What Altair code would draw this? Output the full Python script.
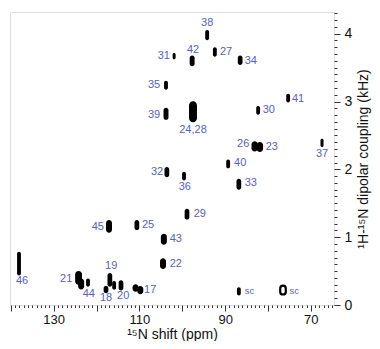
import altair as alt
import pandas as pd

# Peak centres (15N ppm, 1H-15N kHz) and linewidths
peak_ppm = [101.9, 103.8, 103.8, 94.2, 97.7, 92.4, 86.5, 75.3, 82.3, 97.5,
            83.1, 81.9, 67.4, 89.3, 99.6, 86.8, 98.9, 86.8, 103.6, 117.1,
            110.6, 104.3, 104.5, 138.1, 124.2, 123.6, 122.0, 116.9, 117.8, 115.9,
            114.3, 110.9, 109.8]
peak_khz = [3.67, 3.24, 2.82, 3.98, 3.60, 3.73, 3.61, 3.05, 2.87, 2.85,
            2.34, 2.33, 2.39, 2.08, 1.90, 1.78, 1.34, 0.20, 1.96, 1.16,
            1.18, 0.97, 0.61, 0.61, 0.40, 0.31, 0.33, 0.37, 0.23, 0.29,
            0.29, 0.25, 0.22]
peak_wppm = [0.7, 0.9, 1.15, 0.9, 1.15, 0.9, 1.1, 0.9, 0.9, 1.85,
             1.5, 1.5, 0.7, 0.9, 0.9, 1.1, 1.1, 0.9, 1.1, 1.4,
             1.1, 1.4, 1.4, 0.9, 1.6, 1.4, 0.9, 1.1, 1.1, 0.9,
             1.1, 1.4, 1.4]
peak_hkhz = [0.09, 0.13, 0.18, 0.15, 0.16, 0.14, 0.14, 0.13, 0.13, 0.31,
             0.15, 0.15, 0.12, 0.13, 0.13, 0.16, 0.16, 0.12, 0.15, 0.19,
             0.15, 0.16, 0.16, 0.35, 0.20, 0.16, 0.12, 0.20, 0.11, 0.13,
             0.15, 0.11, 0.12]

# Hollow side-chain peak
ring_ppm = [76.5]
ring_khz = [0.22]
ring_wppm = [1.3]
ring_hkhz = [0.13]

# Residue labels and where they sit (data units)
label_text = ["31", "35", "39", "38", "42", "27", "34", "41", "30", "24,28",
              "26", "23", "37", "40", "36", "33", "29", "32", "45", "25",
              "43", "22", "46", "21", "44", "19", "18", "20", "17"]
label_ppm = [104.3, 106.6, 106.6, 94.2, 97.5, 89.8, 84.0, 73.0, 79.8, 97.5,
             85.8, 79.1, 67.4, 86.5, 99.4, 84.0, 95.9, 105.9, 119.7, 108.0,
             101.5, 101.5, 137.4, 127.1, 121.8, 116.6, 117.8, 113.8, 107.5]
label_khz = [3.67, 3.24, 2.80, 4.16, 3.76, 3.73, 3.60, 3.04, 2.87, 2.58,
             2.37, 2.33, 2.22, 2.09, 1.74, 1.80, 1.34, 1.96, 1.15, 1.18,
             0.97, 0.61, 0.35, 0.38, 0.16, 0.57, 0.10, 0.13, 0.22]

sc_text = ["sc", "sc"]
sc_ppm = [84.3, 73.9]
sc_khz = [0.20, 0.21]

x_ticks = list(range(65, 141))
y_ticks = [round(i * 0.1, 1) for i in range(0, 44)]

def box(ppm, khz, w, h):
    d = pd.DataFrame({"ppm": ppm, "khz": khz, "w": w, "h": h})
    d["x1"] = d.ppm + d.w / 2
    d["x2"] = d.ppm - d.w / 2
    d["y1"] = d.khz - d.h / 2
    d["y2"] = d.khz + d.h / 2
    return d

peaks = box(peak_ppm, peak_khz, peak_wppm, peak_hkhz)
ring = box(ring_ppm, ring_khz, ring_wppm, ring_hkhz)
labels = pd.DataFrame({"t": label_text, "ppm": label_ppm, "khz": label_khz})
sclab = pd.DataFrame({"t": sc_text, "ppm": sc_ppm, "khz": sc_khz})

FONT = "Liberation Sans"
xscale = alt.Scale(domain=[140.2, 64.6], nice=False, zero=False)
yscale = alt.Scale(domain=[0, 4.32], nice=False, zero=False)

xaxis = alt.Axis(
    title="¹⁵N shift (ppm)",
    values=x_ticks,
    labelExpr="datum.value % 20 === 10 ? format(datum.value, 'd') : ''",
    labelOverlap=False,
    tickSize={"condition": {"test": "datum.value % 10 === 0", "value": 6}, "value": 2.5},
    grid=False, domain=False, labelFontSize=13, titleFontSize=14,
    labelPadding=2, titlePadding=1, labelFont=FONT, titleFont=FONT,
    titleFontWeight="normal", labelColor="#111", titleColor="#111", tickColor="#333",
)
yaxis = alt.Axis(
    title="¹H-¹⁵N dipolar coupling (kHz)",
    orient="right",
    values=y_ticks,
    labelExpr="abs(datum.value - round(datum.value)) < 0.001 ? format(datum.value, 'd') : ''",
    labelOverlap=False,
    tickSize={"condition": {"test": "abs(datum.value - round(datum.value)) < 0.001", "value": 6}, "value": 3},
    grid=False, domain=False, labelFontSize=14, titleFontSize=14,
    labelPadding=4, titlePadding=19, titleAngle=270, labelFont=FONT, titleFont=FONT,
    titleFontWeight="normal", labelColor="#111", titleColor="#111", tickColor="#333",
)

X = lambda f: alt.X(f, scale=xscale, axis=xaxis)
Y = lambda f: alt.Y(f, scale=yscale, axis=yaxis)

blobs = alt.Chart(peaks).mark_rect(color="black", cornerRadius=50).encode(
    x=X("x1:Q"), x2="x2:Q", y=Y("y1:Q"), y2="y2:Q",
)

rings = alt.Chart(ring).mark_rect(fill="white", stroke="black", strokeWidth=2.2, cornerRadius=50).encode(
    x=X("x1:Q"), x2="x2:Q", y=Y("y1:Q"), y2="y2:Q",
)

text = alt.Chart(labels).mark_text(font=FONT, fontSize=11, color="#5a60b4").encode(
    x=X("ppm:Q"), y=Y("khz:Q"), text="t:N",
)
sc = alt.Chart(sclab).mark_text(font=FONT, fontSize=9.5, color="#5a60b4").encode(
    x=X("ppm:Q"), y=Y("khz:Q"), text="t:N",
)

chart = alt.layer(blobs, rings, text, sc).properties(
    width=324, height=293,
    padding={"left": 2, "top": 4, "right": 38, "bottom": 36},
    autosize=alt.AutoSizeParams(type="none"),
).configure_view(stroke="#333", strokeWidth=1.5).configure(background="white")

chart.save("out.html", embed_options={"renderer": "svg", "actions": False})
